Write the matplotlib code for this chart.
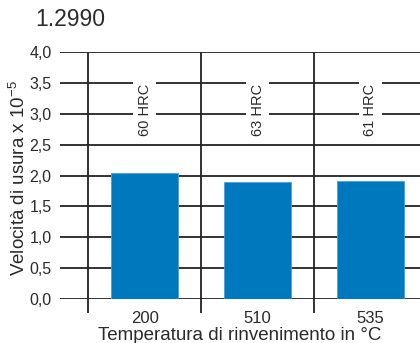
import matplotlib.pyplot as plt
import numpy as np

plt.rcParams['font.family'] = ['Liberation Sans', 'DejaVu Sans']
plt.rcParams['mathtext.fontset'] = 'custom'
plt.rcParams['mathtext.rm'] = 'Liberation Sans'
plt.rcParams['mathtext.default'] = 'regular'

# tempering temperatures, wear rate (x 10^-5) and resulting hardness
temperature = ['200', '510', '535']
wear_rate = [2.05, 1.89, 1.905]
hardness = ['60 HRC', '63 HRC', '61 HRC']
y_ticks = [0.0, 0.5, 1.0, 1.5, 2.0, 2.5, 3.0, 3.5, 4.0]

fig = plt.figure(figsize=(4.2, 3.43), dpi=100)
ax = fig.add_axes([0.143, 0.128, 0.857, 0.72])

x = np.arange(len(temperature))
line_col = '#333333'
text_col = '#2a2a2a'

# horizontal grid at every tick
for y in y_ticks:
    ax.axhline(y, color=line_col, lw=1.4, zorder=1)

# column separators, running a little below the axis
bounds = np.arange(len(temperature) + 1) - 0.5
ax.vlines(bounds, -0.23, 4.0, color='#222222', lw=1.3, clip_on=False, zorder=1)

ax.bar(x, wear_rate, width=0.59, color='#0078be', edgecolor='#4a9fd6',
       linewidth=0.6, zorder=3)

for xi, h in zip(x, hardness):
    ax.text(xi, 3.07, h, rotation=90, ha='center', va='center', fontsize=10.5,
            color=text_col, zorder=4,
            bbox=dict(boxstyle='square,pad=0.3', fc='white', ec='none'))

ax.set_xlim(-0.75, 2.44)
ax.set_ylim(0, 4.0)
ax.set_yticks(y_ticks)
ax.set_yticklabels([f'{v:.1f}'.replace('.', ',') for v in y_ticks], fontsize=11.5)
ax.set_xticks(x)
ax.set_xticklabels(temperature, fontsize=12)
ax.tick_params(axis='both', length=0, colors=text_col)
ax.tick_params(axis='y', pad=6)
ax.tick_params(axis='x', pad=8.5)
for s in ax.spines.values():
    s.set_visible(False)

ax.set_xlabel('Temperatura di rinvenimento in °C', fontsize=13.5, color=text_col,
              labelpad=1)
fig.text(0.045, 0.481, 'Velocità di usura x 10$^{-5}$', rotation=90, ha='center',
         va='center', fontsize=13.5, color=text_col)
fig.text(0.083, 0.942, '1.2990', ha='left', va='center', fontsize=16.5, color=text_col)

fig.savefig('out.png')
